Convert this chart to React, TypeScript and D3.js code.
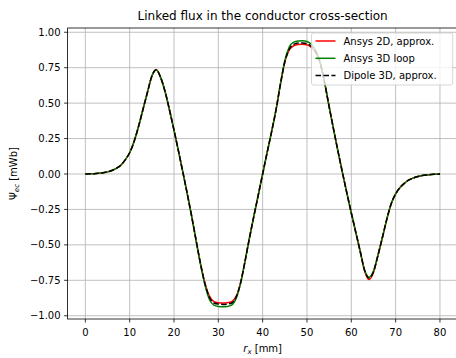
import React from "react";
import * as d3 from "d3";

// Position along the conductor, mm
const rx: number[] = d3.range(0, 81, 1);

// Linked flux, mWb — dipole 3D approximation
const dipole3D: number[] = [
  0.0, 0.001, 0.002, 0.005, 0.009, 0.015, 0.025, 0.04, 0.062, 0.1,
  0.15, 0.23, 0.335, 0.455, 0.575, 0.69, 0.735, 0.68, 0.58, 0.45,
  0.31, 0.163, 0.013, -0.14, -0.3, -0.47, -0.635, -0.775, -0.87, -0.91,
  -0.918, -0.92, -0.918, -0.91, -0.87, -0.77, -0.62, -0.455, -0.3, -0.15,
  0.0, 0.15, 0.295, 0.45, 0.63, 0.79, 0.88, 0.915, 0.925, 0.925,
  0.92, 0.9, 0.86, 0.78, 0.64, 0.475, 0.315, 0.16, 0.01, -0.135,
  -0.275, -0.41, -0.545, -0.68, -0.735, -0.69, -0.575, -0.45, -0.32, -0.21,
  -0.14, -0.095, -0.065, -0.042, -0.028, -0.018, -0.011, -0.007, -0.004, -0.002,
  0.0,
];

// Linked flux, mWb — Ansys 2D approximation
const ansys2D: number[] = [
  0.0, 0.001, 0.002, 0.005, 0.009, 0.015, 0.025, 0.04, 0.062, 0.1,
  0.15, 0.23, 0.335, 0.455, 0.575, 0.69, 0.738, 0.68, 0.58, 0.45,
  0.31, 0.163, 0.013, -0.14, -0.3, -0.47, -0.635, -0.772, -0.862, -0.9,
  -0.908, -0.91, -0.908, -0.9, -0.865, -0.77, -0.62, -0.455, -0.3, -0.15,
  0.0, 0.15, 0.295, 0.45, 0.63, 0.79, 0.875, 0.905, 0.913, 0.915,
  0.912, 0.892, 0.855, 0.78, 0.64, 0.475, 0.315, 0.16, 0.01, -0.135,
  -0.275, -0.41, -0.545, -0.685, -0.745, -0.695, -0.575, -0.45, -0.32, -0.21,
  -0.14, -0.095, -0.065, -0.042, -0.028, -0.018, -0.011, -0.007, -0.004, -0.002,
  0.0,
];

// Linked flux, mWb — Ansys 3D loop
const ansys3D: number[] = [
  0.0, 0.001, 0.002, 0.005, 0.009, 0.015, 0.025, 0.04, 0.062, 0.1,
  0.15, 0.23, 0.335, 0.455, 0.575, 0.69, 0.733, 0.68, 0.58, 0.45,
  0.31, 0.163, 0.013, -0.14, -0.3, -0.475, -0.64, -0.785, -0.885, -0.925,
  -0.934, -0.936, -0.934, -0.925, -0.88, -0.775, -0.62, -0.455, -0.3, -0.15,
  0.0, 0.15, 0.295, 0.45, 0.635, 0.8, 0.895, 0.93, 0.938, 0.94,
  0.935, 0.915, 0.87, 0.785, 0.645, 0.475, 0.315, 0.16, 0.01, -0.135,
  -0.275, -0.41, -0.545, -0.678, -0.728, -0.685, -0.575, -0.45, -0.32, -0.21,
  -0.14, -0.095, -0.065, -0.042, -0.028, -0.018, -0.011, -0.007, -0.004, -0.002,
  0.0,
];

const xTicks: number[] = [0, 10, 20, 30, 40, 50, 60, 70, 80];
const yTicks: number[] = [-1.0, -0.75, -0.5, -0.25, 0.0, 0.25, 0.5, 0.75, 1.0];

const seriesNames: string[] = ["Ansys 2D, approx.", "Ansys 3D loop", "Dipole 3D, approx."];

const W = 456;
const H = 358;
const FONT = "DejaVu Sans, sans-serif";

export default function App() {
  const x = d3.scaleLinear().domain([-4, 84]).range([67.6, 457.7]);
  const y = d3.scaleLinear().domain([-1.023, 1.03]).range([319, 28]);

  const line = (vals: number[]) =>
    d3
      .line<number>()
      .x((_, i) => x(rx[i]))
      .y((v) => y(v))
      .curve(d3.curveMonotoneX)(vals) || "";

  const series = [
    { name: seriesNames[0], vals: ansys2D, color: "#ff0000", dash: undefined as string | undefined },
    { name: seriesNames[1], vals: ansys3D, color: "#008000", dash: undefined as string | undefined },
    { name: seriesNames[2], vals: dipole3D, color: "#000000", dash: "5.55,2.4" },
  ];

  const [x0, x1] = x.range();
  const [yb, yt] = y.range();
  const fmtY = (v: number) => d3.format(".2f")(v).replace("-", "\u2212");

  // legend geometry
  const lgRight = x1 - 5;
  const lgTop = yt + 5;
  const lgLeft = 311.5;
  const lgRowY = [41, 58.3, 75.6];
  const lgBottom = 85;

  return (
    <svg
      width={W}
      height={H}
      style={{ position: "absolute", left: 0, top: 0, fontFamily: FONT }}
    >
      <rect x={0} y={0} width={W} height={H} fill="#ffffff" />

      {/* grid */}
      <g stroke="#b0b0b0" strokeWidth={0.8}>
        {xTicks.map((t) => (
          <line key={"gx" + t} x1={x(t)} x2={x(t)} y1={yb} y2={yt} />
        ))}
        {yTicks.map((t) => (
          <line key={"gy" + t} x1={x0} x2={x1} y1={y(t)} y2={y(t)} />
        ))}
      </g>

      {/* curves */}
      <g fill="none" strokeWidth={1.5} strokeLinejoin="round">
        {series.map((s) => (
          <path key={s.name} d={line(s.vals)} stroke={s.color} strokeDasharray={s.dash} />
        ))}
      </g>

      {/* spines */}
      <rect x={x0} y={yt} width={x1 - x0} height={yb - yt} fill="none" stroke="#000" strokeWidth={0.8} />

      {/* x ticks */}
      <g>
        {xTicks.map((t) => (
          <g key={"xt" + t}>
            <line x1={x(t)} x2={x(t)} y1={yb} y2={yb + 3.5} stroke="#000" strokeWidth={0.8} />
            <text x={x(t)} y={yb + 16.5} textAnchor="middle" fontSize={10} fill="#000">
              {t}
            </text>
          </g>
        ))}
      </g>

      {/* y ticks */}
      <g>
        {yTicks.map((t) => (
          <g key={"yt" + t}>
            <line x1={x0 - 3.5} x2={x0} y1={y(t)} y2={y(t)} stroke="#000" strokeWidth={0.8} />
            <text x={x0 - 7} y={y(t) + 3.6} textAnchor="end" fontSize={10} fill="#000">
              {fmtY(t)}
            </text>
          </g>
        ))}
      </g>

      {/* axis labels */}
      <text x={(x0 + x1) / 2} y={352} textAnchor="middle" fontSize={10} fill="#000">
        <tspan fontStyle="italic">r</tspan>
        <tspan fontStyle="italic" fontSize={7} dy={2}>x</tspan>
        <tspan dy={-2}> [mm]</tspan>
      </text>
      <text
        transform={`translate(16.5, ${(yt + yb) / 2}) rotate(-90)`}
        textAnchor="middle"
        fontSize={10}
        fill="#000"
      >
        <tspan>Ψ</tspan>
        <tspan fontStyle="italic" fontSize={7} dy={2}>ec</tspan>
        <tspan dy={-2}> [mWb]</tspan>
      </text>

      {/* title */}
      <text x={(x0 + x1) / 2} y={19.5} textAnchor="middle" fontSize={12} fill="#000">
        Linked flux in the conductor cross-section
      </text>

      {/* legend */}
      <rect
        x={lgLeft}
        y={lgTop}
        width={lgRight - lgLeft}
        height={lgBottom - lgTop}
        rx={2}
        fill="#ffffff"
        fillOpacity={0.8}
        stroke="#cccccc"
        strokeWidth={0.8}
      />
      {series.map((s, i) => (
        <g key={"lg" + s.name}>
          <line
            x1={lgLeft + 4}
            x2={lgLeft + 24}
            y1={lgRowY[i]}
            y2={lgRowY[i]}
            stroke={s.color}
            strokeWidth={1.5}
            strokeDasharray={s.dash}
          />
          <text x={lgLeft + 32} y={lgRowY[i] + 3.6} fontSize={10} fill="#000">
            {s.name}
          </text>
        </g>
      ))}
    </svg>
  );
}
